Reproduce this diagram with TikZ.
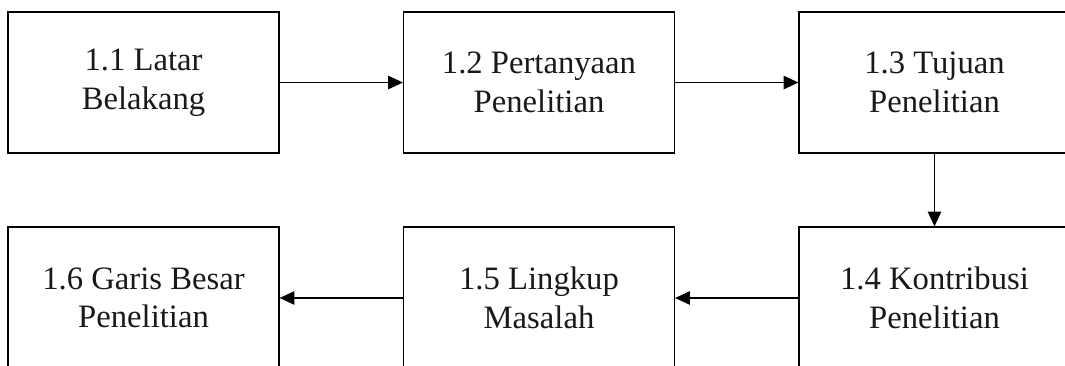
\documentclass[tikz,border=0pt]{standalone}
\usepackage{fontspec}
\setmainfont{Liberation Serif}
\usetikzlibrary{arrows.meta}
\begin{document}
\begin{tikzpicture}[x=0.75pt,y=-0.75pt,
  box/.style={draw=black, line width=0.9pt, minimum width=271*0.75pt, minimum height=141*0.75pt, inner sep=0pt, align=center, font=\fontsize{24.5}{29}\selectfont, text=black!90},
  conn/.style={line width=0.9pt, -{Triangle[length=11pt,width=10pt]}}]
\useasboundingbox (0,0) rectangle (1065,365);
\clip (0,0) rectangle (1065,365);
\node[box] (b1) at (143.5,82.5) {1.1 Latar\\Belakang};
\node[box] (b2) at (539,82.5) {1.2 Pertanyaan\\Penelitian};
\node[box] (b3) at (934.5,82.5) {1.3 Tujuan\\Penelitian};
\node[box, minimum height=142*0.75pt] (b4) at (934.5,298) {1.4 Kontribusi\\Penelitian};
\node[box, minimum height=142*0.75pt] (b5) at (539,298) {1.5 Lingkup\\Masalah};
\node[box, minimum height=142*0.75pt] (b6) at (143.5,298) {1.6 Garis Besar\\Penelitian};
\draw[conn] (b1) -- (b2);
\draw[conn] (b2) -- (b3);
\draw[conn] (b3) -- (b4);
\draw[conn] (b4) -- (b5);
\draw[conn] (b5) -- (b6);
\end{tikzpicture}
\end{document}
